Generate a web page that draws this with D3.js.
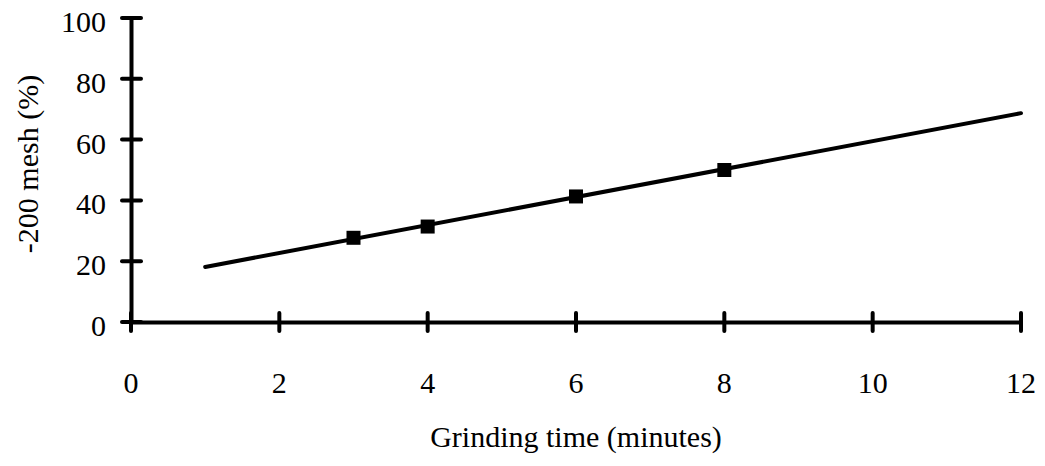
<!DOCTYPE html>
<html><head><meta charset="utf-8">
<script src="https://cdn.jsdelivr.net/npm/d3@7"></script>
<style>body{margin:0;background:#fff}svg{display:block}</style>
</head><body>
<script>
const xData = [3, 4, 6, 8];
const yData = [27.7, 31.4, 41.3, 50.0];
const trendX = [1, 12];
const trendY = [18.1, 68.7];
const xTicks = [0, 2, 4, 6, 8, 10, 12];
const yTicks = [0, 20, 40, 60, 80, 100];
const xTitle = "Grinding time (minutes)";
const yTitle = "-200 mesh (%)";

const W = 1045, H = 466;
const svg = d3.select("body").append("svg").attr("width", W).attr("height", H)
  .style("font-family", "'Liberation Serif', serif").style("font-size", "30px");
const x = d3.scaleLinear().domain([0, 12]).range([131, 1021]);
const y = d3.scaleLinear().domain([0, 100]).range([322, 18]);

function txt(sel) {
  return sel.style("font-family", "'Liberation Serif', serif").style("font-size", "30px").attr("fill", "#000");
}

// axes
const xAxis = svg.append("g").attr("transform", `translate(0,${y(0)})`)
  .call(d3.axisBottom(x).tickValues(xTicks).tickSize(0).tickFormat(""));
xAxis.select(".domain").attr("stroke", "#000").attr("stroke-width", 4);
svg.append("g").selectAll("line").data(xTicks).join("line")
  .attr("x1", d => x(d)).attr("x2", d => x(d))
  .attr("y1", y(0) - 9).attr("y2", y(0) + 9)
  .attr("stroke", "#000").attr("stroke-width", 4).attr("stroke-linecap", "round");
txt(svg.append("g").selectAll("text").data(xTicks).join("text")
  .attr("x", d => x(d)).attr("y", 393)
  .attr("text-anchor", "middle")
  .text(d => d));

const yAxis = svg.append("g").attr("transform", `translate(${x(0)},0)`)
  .call(d3.axisLeft(y).tickValues(yTicks).tickSize(0).tickFormat(""));
yAxis.select(".domain").attr("stroke", "#000").attr("stroke-width", 4);
svg.append("g").selectAll("line").data(yTicks).join("line")
  .attr("x1", x(0) - 9).attr("x2", x(0) + 10)
  .attr("y1", d => y(d)).attr("y2", d => y(d))
  .attr("stroke", "#000").attr("stroke-width", 4).attr("stroke-linecap", "round");
txt(svg.append("g").selectAll("text").data(yTicks).join("text")
  .attr("x", 106).attr("y", d => y(d) + 14)
  .attr("text-anchor", "end")
  .text(d => d));

// trend line
const line = d3.line().x(d => x(d[0])).y(d => y(d[1]));
svg.append("path").datum(trendX.map((d, i) => [d, trendY[i]]))
  .attr("d", line).attr("fill", "none").attr("stroke", "#000")
  .attr("stroke-width", 4).attr("stroke-linecap", "round");

// markers
svg.append("g").selectAll("rect").data(xData.map((d, i) => [d, yData[i]])).join("rect")
  .attr("x", d => x(d[0]) - 7).attr("y", d => y(d[1]) - 7)
  .attr("width", 14).attr("height", 14).attr("fill", "#000");

// titles
txt(svg.append("text").attr("x", 576).attr("y", 447).attr("text-anchor", "middle").text(xTitle));
txt(svg.append("text").attr("transform", `translate(38,164) rotate(-90)`)
  .attr("text-anchor", "middle").text(yTitle));
</script>
</body></html>
